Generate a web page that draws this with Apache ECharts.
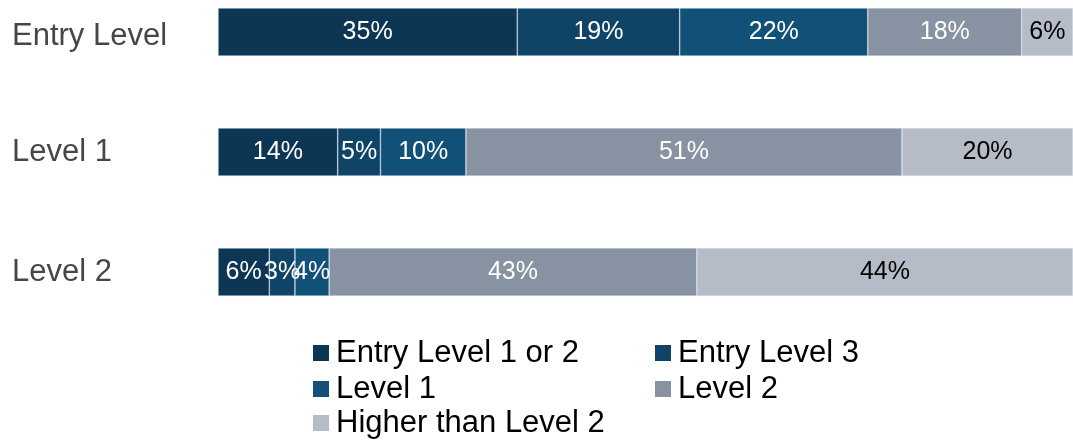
<!DOCTYPE html>
<html>
<head>
<meta charset="utf-8">
<script src="https://cdn.jsdelivr.net/npm/echarts@6/dist/echarts.min.js"></script>
<style>html,body{margin:0;padding:0;background:#fff;}#c{width:1073px;height:442px;}</style>
</head>
<body>
<div id="c"></div>
<script>
const categories = ['Entry Level', 'Level 1', 'Level 2'];
const seriesNames = ['Entry Level 1 or 2', 'Entry Level 3', 'Level 1', 'Level 2', 'Higher than Level 2'];
const entryLevel12 = [35, 14, 6];
const entryLevel3 = [19, 5, 3];
const level1 = [22, 10, 4];
const level2 = [18, 51, 43];
const higherThanLevel2 = [6, 20, 44];
const colors = ['#0c3654', '#0f4467', '#115077', '#8793a2', '#b5bcc7'];
const labelColors = ['#ffffff', '#ffffff', '#ffffff', '#ffffff', '#000000'];
const values = [entryLevel12, entryLevel3, level1, level2, higherThanLevel2];

const FONT = 'Liberation Sans, Arial, sans-serif';
const chart = echarts.init(document.getElementById('c'), null, {renderer: 'canvas'});
const series = seriesNames.map((name, i) => ({
  name: name,
  type: 'bar',
  stack: 'total',
  barWidth: 48,
  clip: false,
  data: values[i],
  itemStyle: {color: colors[i], borderColor: 'rgba(210,222,235,0.8)', borderWidth: 0.6},
  label: {
    show: true,
    position: 'inside',
    formatter: '{c}%',
    color: labelColors[i],
    fontFamily: FONT,
    fontSize: 25
  },
  emphasis: {disabled: true}
}));

// legend cell positions (left, top) per series
const legendPos = [[313, 337], [655, 337], [313, 373], [655, 373], [313, 407]];
const legends = seriesNames.map((name, i) => ({
  data: [name],
  left: legendPos[i][0], top: legendPos[i][1],
  padding: 0,
  itemWidth: 16, itemHeight: 16,
  icon: 'rect',
  itemStyle: {borderWidth: 0},
  selectedMode: false,
  textStyle: {color: '#000', fontSize: 31, fontFamily: FONT, padding: [0, 0, 0, 2], lineHeight: 32}
}));

chart.setOption({
  animation: false,
  backgroundColor: '#ffffff',
  grid: {left: 218, right: 0, top: 32, height: 240},
  xAxis: {
    type: 'value', min: 0, max: 100, show: false
  },
  yAxis: {
    type: 'category',
    data: categories,
    inverse: true,
    boundaryGap: false,
    axisLine: {show: false},
    axisTick: {show: false},
    splitLine: {show: false},
    axisLabel: {
      align: 'left',
      margin: 206,
      color: '#474747',
      fontFamily: FONT,
      fontSize: 31,
      formatter: function (v, idx) { return idx === 0 ? '{low|' + v + '}' : v; },
      rich: {
        low: {color: '#474747', fontFamily: FONT, fontSize: 31, padding: [8, 0, 0, 0]}
      }
    }
  },
  legend: legends,
  series: series
});
</script>
</body>
</html>
